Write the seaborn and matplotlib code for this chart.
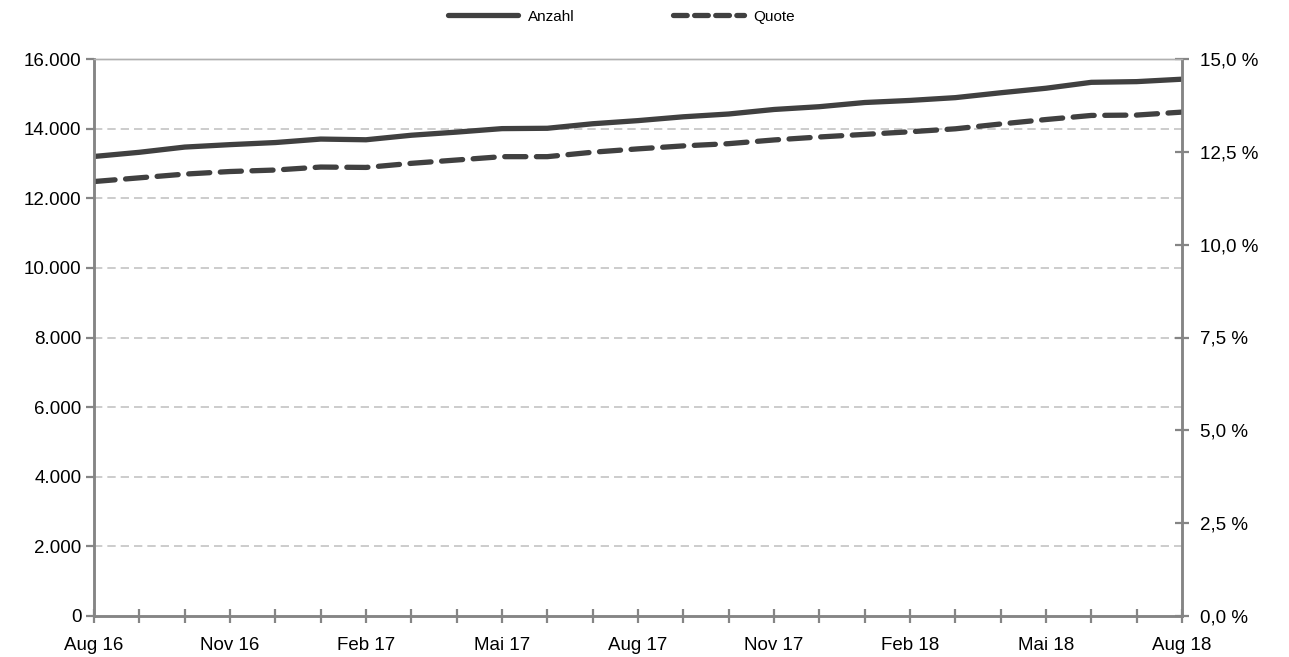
import numpy as np
import pandas as pd
import seaborn as sns
import matplotlib.pyplot as plt
from matplotlib.lines import Line2D

# Monate Aug 16 - Aug 18
monate = ['Aug 16', 'Sep 16', 'Okt 16', 'Nov 16', 'Dez 16', 'Jan 17', 'Feb 17',
          'Mrz 17', 'Apr 17', 'Mai 17', 'Jun 17', 'Jul 17', 'Aug 17', 'Sep 17',
          'Okt 17', 'Nov 17', 'Dez 17', 'Jan 18', 'Feb 18', 'Mrz 18', 'Apr 18',
          'Mai 18', 'Jun 18', 'Jul 18', 'Aug 18']

anzahl = [13200, 13320, 13470, 13540, 13600, 13700, 13680, 13810, 13900, 14000,
          14010, 14140, 14230, 14340, 14420, 14550, 14630, 14750, 14810, 14890,
          15030, 15160, 15330, 15350, 15420]

quote = [11.70, 11.80, 11.90, 11.97, 12.01, 12.09, 12.08, 12.19, 12.28, 12.37,
         12.37, 12.49, 12.58, 12.66, 12.72, 12.82, 12.90, 12.97, 13.04, 13.12,
         13.25, 13.37, 13.48, 13.49, 13.57]

df = pd.DataFrame({'pos': np.arange(len(monate)), 'Anzahl': anzahl, 'Quote': quote})

sns.set_style('white')
plt.rcParams['font.family'] = ['Liberation Sans', 'DejaVu Sans']
plt.rcParams['text.color'] = 'black'
plt.rcParams['xtick.color'] = 'black'
plt.rcParams['ytick.color'] = 'black'

farbe = '#404040'
achse = '#858585'
lw = 3.8

fig = plt.figure(figsize=(12.89, 6.57), dpi=100)
ax = fig.add_axes([94 / 1289, 41 / 657, 1088 / 1289, 557 / 657])
ax2 = ax.twinx()

sns.lineplot(data=df, x='pos', y='Anzahl', ax=ax, color=farbe, lw=lw,
             solid_capstyle='round')
sns.lineplot(data=df, x='pos', y='Quote', ax=ax2, color=farbe, lw=lw,
             dashes=False)
ax2.lines[0].set_dashes((4.0, 2.0))
ax2.lines[0].set_dash_capstyle('round')

ax.set_xlim(0, len(monate) - 1)
ax.set_ylim(0, 16000)
ax2.set_ylim(0, 15)

ax.set_xticks(df['pos'])
ax.set_xticklabels([m if i % 3 == 0 else '' for i, m in enumerate(monate)])
ax.set_yticks(np.arange(0, 16001, 2000))
ax.set_yticklabels([f'{v:,.0f}'.replace(',', '.') for v in np.arange(0, 16001, 2000)])
ax2.set_yticks(np.arange(0, 15.01, 2.5))
ax2.set_yticklabels([f'{v:.1f} %'.replace('.', ',') for v in np.arange(0, 15.01, 2.5)])

ax.set_xlabel('')
ax.set_ylabel('')
ax2.set_ylabel('')

for v in np.arange(2000, 16000, 2000):
    ax.axhline(v, color='#c4c4c4', lw=1.2, ls=(0, (5, 3)), zorder=0)

for a in (ax, ax2):
    for s in a.spines.values():
        s.set_color(achse)
        s.set_linewidth(1.8)
    a.spines['top'].set_color('#b0b0b0')
    a.spines['top'].set_linewidth(1)

ax.tick_params(axis='x', bottom=True, direction='inout', length=10, width=1.6,
               color=achse, labelsize=13.5, labelcolor='black', pad=10)
ax.tick_params(axis='y', left=True, direction='out', length=6, width=1.6,
               color=achse, labelsize=13.5, labelcolor='black', pad=3)
ax2.tick_params(axis='y', right=True, direction='inout', length=10, width=1.6,
                color=achse, labelsize=13.5, labelcolor='black', pad=8)

handles = [Line2D([0], [0], color=farbe, lw=lw, solid_capstyle='round'),
           Line2D([0], [0], color=farbe, lw=lw, dashes=(2.6, 1.4), dash_capstyle='round')]
fig.legend(handles, ['Anzahl', 'Quote'], loc='upper center', bbox_to_anchor=(0.482, 1.006),
           ncol=2, frameon=False, fontsize=11, handlelength=4.6, columnspacing=6.5,
           handletextpad=0.6)

fig.savefig('out.png', dpi=100)
